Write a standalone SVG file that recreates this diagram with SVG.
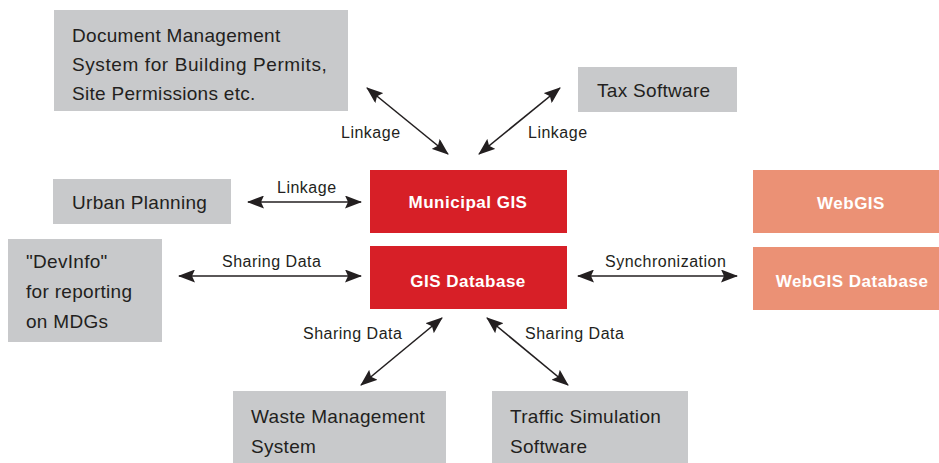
<svg xmlns="http://www.w3.org/2000/svg" width="939" height="463" viewBox="0 0 939 463">
<style>
.g{fill:#c8c9cb}
.r{fill:#d71f27}
.s{fill:#eb9175}
.t{font-family:"Liberation Sans",Arial,sans-serif;font-size:19px;letter-spacing:0.3px;fill:#231f20}
.w{font-family:"Liberation Sans",Arial,sans-serif;font-size:17px;font-weight:bold;letter-spacing:0.5px;fill:#fff;text-anchor:middle}
.l{font-family:"Liberation Sans",Arial,sans-serif;font-size:16px;letter-spacing:0.5px;fill:#231f20}
.c{stroke:#231f20;stroke-width:1.6;fill:none;marker-start:url(#ah);marker-end:url(#ah)}
</style>
<defs>
<marker id="ah" markerUnits="userSpaceOnUse" markerWidth="17" markerHeight="13" refX="16" refY="6.5" orient="auto-start-reverse" viewBox="0 0 17 13">
<path d="M0,0 L17,6.5 L0,13 L3,6.5 z" fill="#231f20"/>
</marker>
</defs>
<rect width="939" height="463" fill="#fff"/>
<g id="doc"><rect class="g" x="54" y="10" width="294" height="101"/>
<text class="t" x="72" y="42">Document Management</text>
<text class="t" x="72" y="71" style="letter-spacing:0.6px">System for Building Permits,</text>
<text class="t" x="72" y="100">Site Permissions etc.</text></g>
<g id="tax"><rect class="g" x="578" y="67" width="159" height="45"/>
<text class="t" x="597" y="97">Tax Software</text></g>
<g id="urban"><rect class="g" x="53" y="179" width="178" height="45"/>
<text class="t" x="72" y="209">Urban Planning</text></g>
<g id="devinfo"><rect class="g" x="8" y="239" width="154" height="103"/>
<text class="t" x="26" y="268">"DevInfo"</text>
<text class="t" x="26" y="298">for reporting</text>
<text class="t" x="26" y="328">on MDGs</text></g>
<g id="mgis"><rect class="r" x="370" y="170" width="197" height="63"/>
<text class="w" x="468" y="208">Municipal GIS</text></g>
<g id="gisdb"><rect class="r" x="370" y="246" width="197" height="63"/>
<text class="w" x="468" y="287">GIS Database</text></g>
<g id="webgis"><rect class="s" x="753" y="170" width="186" height="63"/>
<text class="w" x="851" y="209">WebGIS</text></g>
<g id="webgisdb"><rect class="s" x="753" y="247" width="186" height="63"/>
<text class="w" x="852" y="287">WebGIS Database</text></g>
<g id="waste"><rect class="g" x="233" y="391" width="213" height="72"/>
<text class="t" x="251" y="423">Waste Management</text>
<text class="t" x="251" y="453">System</text></g>
<g id="traffic"><rect class="g" x="492" y="391" width="196" height="72"/>
<text class="t" x="510" y="423">Traffic Simulation</text>
<text class="t" x="510" y="453">Software</text></g>
<g id="connectors">
<line class="c" x1="367" y1="88" x2="448" y2="154"/>
<line class="c" x1="560" y1="88" x2="479" y2="154"/>
<line class="c" x1="248" y1="202" x2="361" y2="202"/>
<line class="c" x1="179" y1="276" x2="361" y2="276"/>
<line class="c" x1="578" y1="276" x2="737" y2="276"/>
<line class="c" x1="442" y1="318" x2="361" y2="385"/>
<line class="c" x1="487" y1="318" x2="568" y2="385"/>
<text class="l" x="341" y="138">Linkage</text>
<text class="l" x="528" y="138">Linkage</text>
<text class="l" x="277" y="193">Linkage</text>
<text class="l" x="222" y="267">Sharing Data</text>
<text class="l" x="605" y="267">Synchronization</text>
<text class="l" x="303" y="339">Sharing Data</text>
<text class="l" x="525" y="339">Sharing Data</text>
</g>
</svg>
